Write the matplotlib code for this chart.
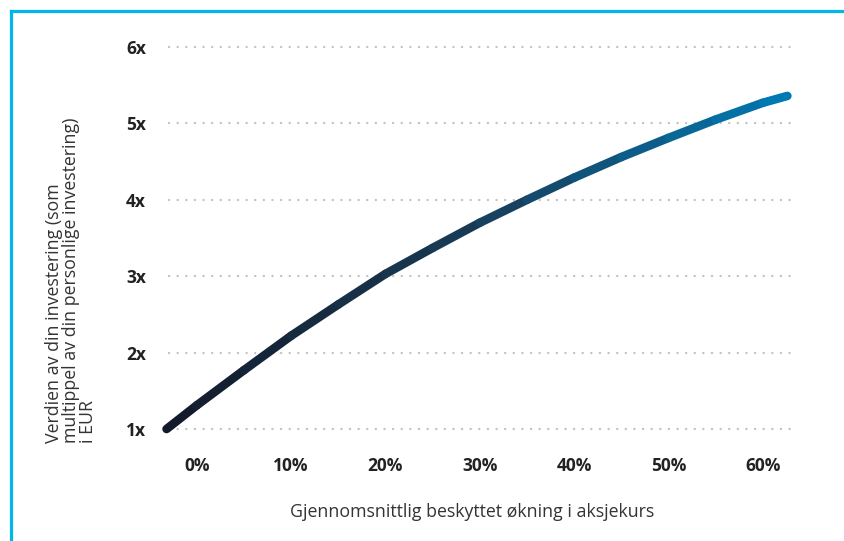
import numpy as np
import matplotlib
matplotlib.use("Agg")
import matplotlib.pyplot as plt
from matplotlib.collections import LineCollection
from matplotlib.lines import Line2D
from matplotlib.colors import LinearSegmentedColormap

# data
growth_pct = [-3.2, 0, 5, 10, 15, 20, 25, 30, 35, 40, 45, 50, 55, 60, 62.6]
multiple = [1.00, 1.31, 1.77, 2.22, 2.63, 3.03, 3.37, 3.70, 4.00, 4.29, 4.56, 4.81, 5.05, 5.27, 5.36]
x_ticks = [0, 10, 20, 30, 40, 50, 60]
x_labels = ['0%', '10%', '20%', '30%', '40%', '50%', '60%']
y_ticks = [1, 2, 3, 4, 5, 6]
y_labels = ['1x', '2x', '3x', '4x', '5x', '6x']

plt.rcParams['font.family'] = ['Open Sans', 'DejaVu Sans']

fig = plt.figure(figsize=(8.45, 5.41), dpi=100)
ax = fig.add_axes([0.1893, 0.1858, 0.7503, 0.7414])
ax.set_xlim(-3.9, 63.3)
ax.set_ylim(0.85, 6.1)

# dotted grid
for yv in y_ticks:
    ax.plot([-2.9, 63.1], [yv, yv], color='#c2c2c2', lw=1.7,
            linestyle=(0, (0.05, 3.6)), dash_capstyle='round', zorder=1)

# gradient line
cmap = LinearSegmentedColormap.from_list('g', ['#131a2b', '#1a3d58', '#0079b3'])
pts = np.array([growth_pct, multiple]).T.reshape(-1, 1, 2)
segs = np.concatenate([pts[:-1], pts[1:]], axis=1)
lc = LineCollection(segs, cmap=cmap, linewidths=6.2, capstyle='round', joinstyle='round', zorder=3)
lc.set_array(np.linspace(0, 1, len(segs)))
ax.add_collection(lc)

ax.set_xticks(x_ticks)
ax.set_xticklabels(x_labels, fontsize=12.5, fontweight='bold', color='#222222')
ax.set_yticks(y_ticks)
ax.set_yticklabels(y_labels, fontsize=12.5, fontweight='bold', color='#222222')
ax.tick_params(length=0)
ax.tick_params(axis='x', pad=12)
ax.tick_params(axis='y', pad=10)
for s in ax.spines.values():
    s.set_visible(False)

fig.text(472 / 845, 1 - 512 / 541, 'Gjennomsnittlig beskyttet økning i aksjekurs',
         ha='center', va='center', fontsize=12.8, color='#333333')
fig.text(71 / 845, 1 - 443 / 541,
         'Verdien av din investering (som\nmultippel av din personlige investering)\ni EUR',
         rotation=90, ha='center', va='bottom', multialignment='left',
         fontsize=12.8, color='#333333', linespacing=0.95)

# cyan frame (left and top)
fig.add_artist(Line2D([11 / 845, 11 / 845], [0, 1 - 10.5 / 541], color='#00b7e9', lw=2.3))
fig.add_artist(Line2D([11 / 845, 1], [1 - 10.5 / 541, 1 - 10.5 / 541], color='#00b7e9', lw=2.3))

fig.savefig('out.png', dpi=100)
